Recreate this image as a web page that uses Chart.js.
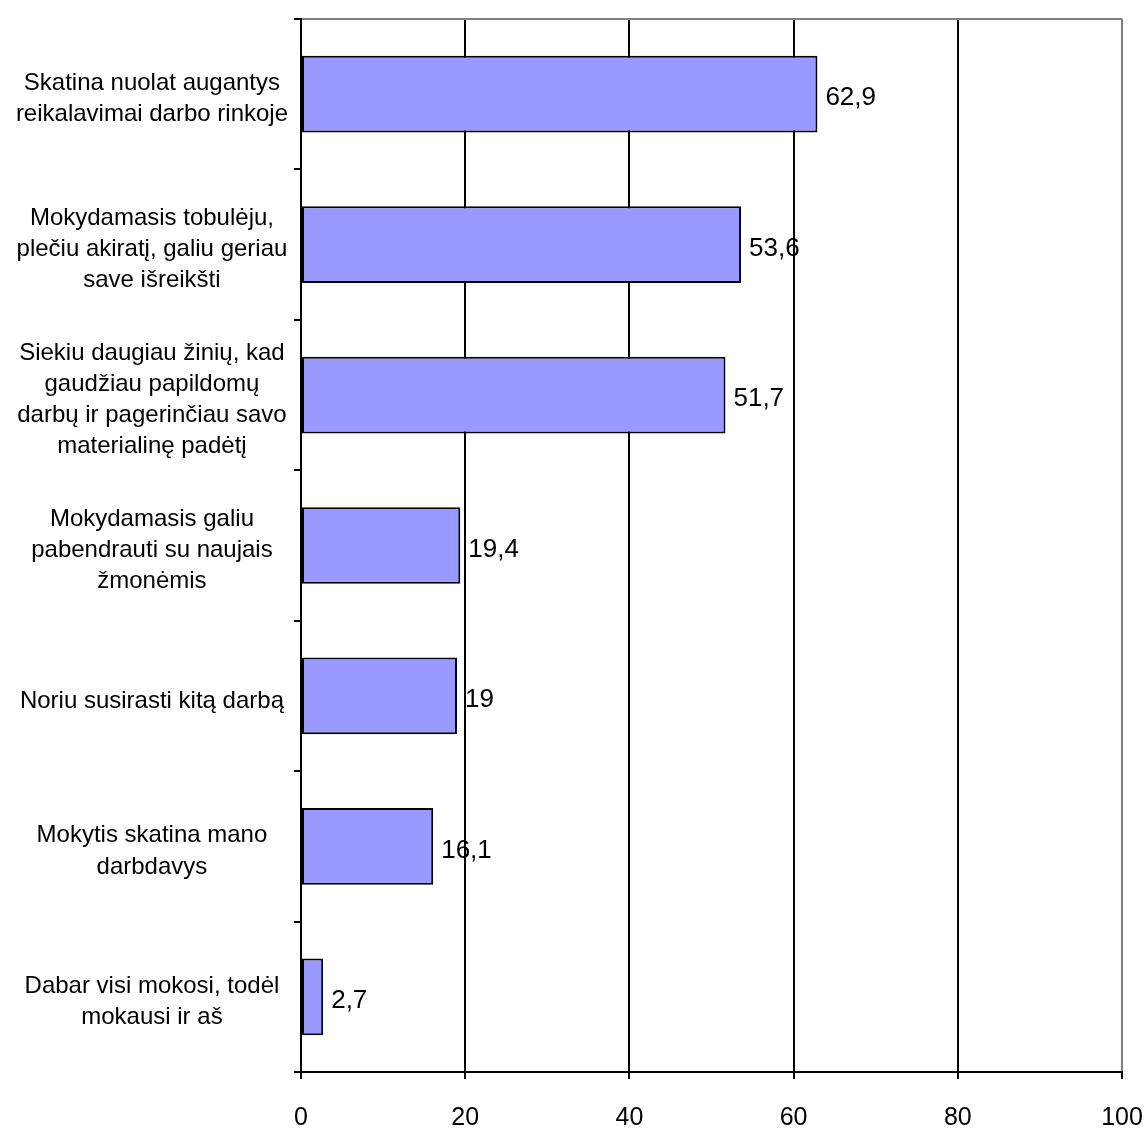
<!DOCTYPE html>
<html>
<head>
<meta charset="utf-8">
<script src="https://cdn.jsdelivr.net/npm/chart.js@4/dist/chart.umd.min.js"></script>
<style>
  body { margin: 0; background: #fff; }
</style>
</head>
<body>
<canvas id="reasonsChart" width="1147" height="1128"></canvas>
<script>
// Reasons for learning (%)
const categories = [
    ['Skatina nuolat augantys', 'reikalavimai darbo rinkoje'],
    ['Mokydamasis tobulėju,', 'plečiu akiratį, galiu geriau', 'save išreikšti'],
    ['Siekiu daugiau žinių, kad', 'gaudžiau papildomų', 'darbų ir pagerinčiau savo', 'materialinę padėtį'],
    ['Mokydamasis galiu', 'pabendrauti su naujais', 'žmonėmis'],
    'Noriu susirasti kitą darbą',
    ['Mokytis skatina mano', 'darbdavys'],
    ['Dabar visi mokosi, todėl', 'mokausi ir aš']
];
const values = [62.9, 53.6, 51.7, 19.4, 19, 16.1, 2.7];
const xTicks = [0, 20, 40, 60, 80, 100];

const FONT = '"Liberation Sans", Arial, sans-serif';

// value labels to the right of each bar
const valueLabels = {
    id: 'valueLabels',
    afterDatasetsDraw(chart) {
        const ctx = chart.ctx;
        const meta = chart.getDatasetMeta(0);
        ctx.save();
        ctx.font = '26px ' + FONT;
        ctx.fillStyle = '#000';
        ctx.textAlign = 'left';
        ctx.textBaseline = 'middle';
        meta.data.forEach((bar, i) => {
            const txt = String(values[i]).replace('.', ',');
            ctx.fillText(txt, bar.x + 8, bar.y + 4);
        });
        ctx.restore();
    }
};

function createReasonsChart() {
    const ctx = document.getElementById('reasonsChart');
    if (!ctx) return;

    new Chart(ctx.getContext('2d'), {
        type: 'bar',
        data: {
            labels: categories,
            datasets: [{
                data: values,
                backgroundColor: '#9999FF',
                borderColor: '#000',
                borderWidth: 2,
                borderSkipped: false,
                barPercentage: 0.51,
                categoryPercentage: 1
            }]
        },
        options: {
            indexAxis: 'y',
            responsive: false,
            animation: false,
            layout: {
                padding: { left: 0, top: 19, right: 25, bottom: 0 }
            },
            plugins: {
                legend: { display: false },
                tooltip: { enabled: false }
            },
            scales: {
                x: {
                    min: 0,
                    max: 100,
                    afterBuildTicks: scale => {
                        scale.ticks = xTicks.map(v => ({ value: v }));
                    },
                    afterFit: scale => {
                        scale.height = 56;
                        scale.paddingLeft = 0;
                        scale.paddingRight = 0;
                    },
                    grid: {
                        color: c => (c.tick && c.tick.value === 100) ? '#808080' : '#000',
                        lineWidth: 2,
                        tickColor: '#000',
                        tickLength: 7
                    },
                    border: { color: '#000', width: 2 },
                    ticks: {
                        color: '#000',
                        padding: 24,
                        maxRotation: 0,
                        font: { family: FONT, size: 25 }
                    }
                },
                y: {
                    afterFit: scale => {
                        scale.width = 301;
                        scale.paddingTop = 0;
                        scale.paddingBottom = 0;
                    },
                    grid: {
                        color: c => c.index === 0 ? '#808080' : 'rgba(0,0,0,0)',
                        lineWidth: 2,
                        tickColor: '#000',
                        tickLength: 7
                    },
                    border: { color: '#000', width: 2 },
                    ticks: {
                        color: '#000',
                        padding: 6,
                        labelOffset: 5,
                        crossAlign: 'center',
                        font: { family: FONT, size: 24, lineHeight: 1.3 }
                    }
                }
            }
        },
        plugins: [valueLabels]
    });
}

document.addEventListener('DOMContentLoaded', function() {
    if (typeof Chart !== 'undefined') {
        createReasonsChart();
    }
});
</script>
</body>
</html>
